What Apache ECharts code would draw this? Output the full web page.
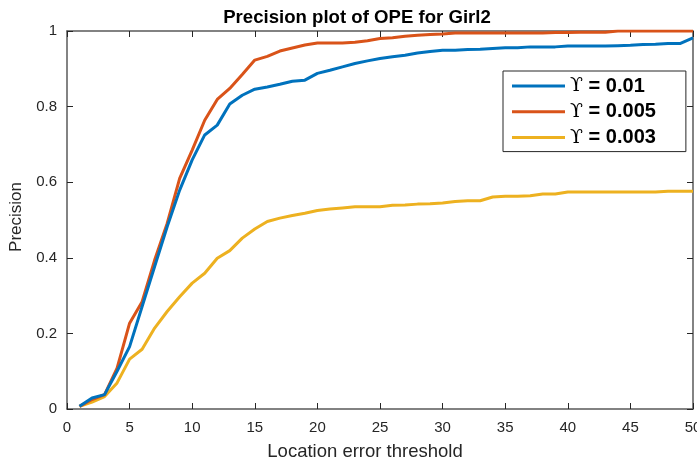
<!DOCTYPE html>
<html>
<head>
<meta charset="utf-8">
<script src="https://cdn.jsdelivr.net/npm/echarts@6/dist/echarts.min.js"></script>
<style>html,body{margin:0;padding:0;background:#fff}#c{width:697px;height:462px}</style>
</head>
<body>
<div id="c"></div>
<script>
const thresholds = [1,2,3,4,5,6,7,8,9,10,11,12,13,14,15,16,17,18,19,20,21,22,23,24,25,26,27,28,29,30,31,32,33,34,35,36,37,38,39,40,41,42,43,44,45,46,47,48,49,50];
const seriesNames = ['ϒ = 0.01', 'ϒ = 0.005', 'ϒ = 0.003'];
const prec001 = [0.007,0.029,0.038,0.100,0.165,0.271,0.377,0.482,0.579,0.659,0.725,0.751,0.807,0.830,0.846,0.852,0.859,0.867,0.870,0.888,0.896,0.905,0.914,0.921,0.927,0.932,0.936,0.942,0.946,0.949,0.949,0.951,0.952,0.954,0.956,0.956,0.958,0.958,0.958,0.960,0.960,0.960,0.960,0.961,0.962,0.964,0.965,0.967,0.967,0.982];
const prec0005 = [0.007,0.025,0.038,0.108,0.227,0.284,0.394,0.491,0.610,0.685,0.764,0.819,0.848,0.885,0.923,0.933,0.947,0.955,0.963,0.968,0.968,0.968,0.970,0.974,0.980,0.982,0.986,0.989,0.991,0.992,0.995,0.995,0.995,0.995,0.995,0.995,0.995,0.995,0.996,0.996,0.997,0.997,0.997,1.0,1.0,1.0,1.0,1.0,1.0,1.0];
const prec0003 = [0.007,0.018,0.033,0.069,0.132,0.158,0.214,0.258,0.297,0.333,0.359,0.399,0.419,0.452,0.476,0.496,0.505,0.512,0.518,0.525,0.529,0.532,0.535,0.535,0.535,0.539,0.540,0.542,0.543,0.545,0.549,0.551,0.551,0.561,0.563,0.563,0.564,0.569,0.569,0.574,0.574,0.574,0.574,0.574,0.574,0.574,0.574,0.576,0.576,0.576];

const colors = ['#0072BD', '#D95319', '#EDB120'];
const valuesList = [prec001, prec0005, prec0003];
const axisColor = '#262626';
const boxColor = '#5a5a5a';
const font = 'Liberation Sans, Arial, Helvetica, sans-serif';

const chart = echarts.init(document.getElementById('c'), null, {renderer: 'canvas'});
const mkSeries = (i) => ({
  name: seriesNames[i],
  type: 'line',
  data: thresholds.map((t, k) => [t, valuesList[i][k]]),
  showSymbol: false,
  symbol: 'none',
  lineStyle: {width: 3, color: colors[i]},
  itemStyle: {color: colors[i]},
  animation: false,
  z: 5 - i
});
const axisCommon = {
  type: 'value',
  axisLine: {show: true, onZero: false, lineStyle: {color: boxColor, width: 1.5}},
  axisTick: {show: true, inside: true, length: 6, lineStyle: {color: axisColor, width: 1}},
  splitLine: {show: false}
};
chart.setOption({
  animation: false,
  backgroundColor: '#fff',
  title: {
    text: 'Precision plot of OPE for Girl2',
    left: 352, top: 3, textAlign: 'center',
    textStyle: {fontFamily: font, fontSize: 18.6, fontWeight: 'bold', color: '#000'}
  },
  grid: {left: 67, right: 4, top: 31, bottom: 53, containLabel: false, outerBoundsMode: 'none'},
  legend: {
    orient: 'vertical',
    left: 503, top: 71,
    backgroundColor: '#fff',
    borderColor: axisColor, borderWidth: 1,
    padding: [5, 30, 4, 9],
    itemGap: 5.8,
    itemWidth: 53, itemHeight: 3,
    icon: 'rect',
    data: seriesNames,
    formatter: (name) => '{u|ϒ}{t|' + name.slice(1) + '}',
    textStyle: {
      rich: {
        u: {fontFamily: 'DejaVu Serif, Liberation Serif, serif', fontSize: 19, color: '#000', lineHeight: 22},
        t: {fontFamily: font, fontSize: 20, fontWeight: 'bold', color: '#000', lineHeight: 22}
      }
    }
  },
  xAxis: [
    Object.assign({}, axisCommon, {
      position: 'bottom', min: 0, max: 50, interval: 5,
      name: 'Location error threshold', nameLocation: 'middle', nameGap: 33,
      nameTextStyle: {fontFamily: font, fontSize: 18.5, color: axisColor, padding: [0, 30, 0, 0]},
      axisLabel: {fontFamily: font, fontSize: 15, color: axisColor, margin: 11}
    }),
    Object.assign({}, axisCommon, {
      position: 'top', min: 0, max: 50, interval: 5,
      axisLabel: {show: false}
    })
  ],
  yAxis: [
    Object.assign({}, axisCommon, {
      position: 'left', min: 0, max: 1, interval: 0.2,
      name: 'Precision', nameLocation: 'middle', nameGap: 32,
      nameTextStyle: {fontFamily: font, fontSize: 17, color: axisColor, padding: [0, 0, 0, 6]},
      axisLabel: {fontFamily: font, fontSize: 15, color: axisColor, margin: 10,
        formatter: (v) => String(+v.toFixed(1))}
    }),
    Object.assign({}, axisCommon, {
      position: 'right', min: 0, max: 1, interval: 0.2,
      axisLabel: {show: false}
    })
  ],
  series: [mkSeries(0), mkSeries(1), mkSeries(2)]
});
</script>
</body>
</html>
